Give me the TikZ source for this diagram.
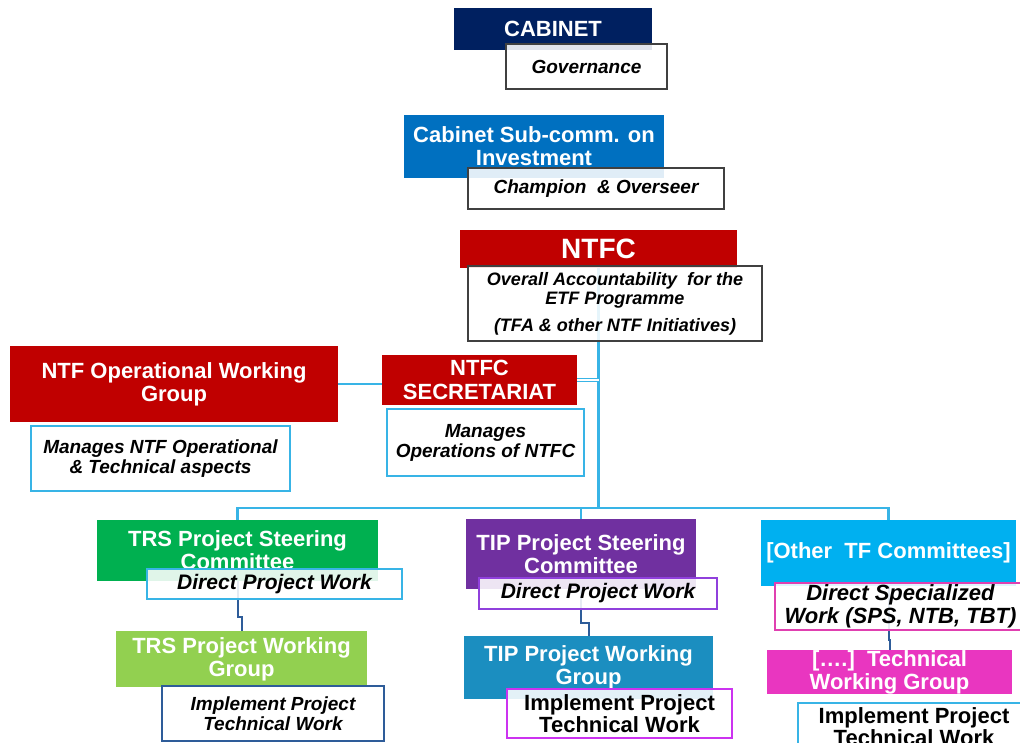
\documentclass[tikz,border=0pt]{standalone}
\usepackage{fontspec}
\setmainfont{Liberation Sans}
\usetikzlibrary{backgrounds}
\definecolor{navy}{HTML}{002060}
\definecolor{subblue}{HTML}{0070C0}
\definecolor{darkred}{HTML}{C00000}
\definecolor{trsgreen}{HTML}{00B050}
\definecolor{lightgreen}{HTML}{92D050}
\definecolor{tippurple}{HTML}{7030A0}
\definecolor{tipteal}{HTML}{1B8EC0}
\definecolor{othcyan}{HTML}{00B0F0}
\definecolor{othmagenta}{HTML}{E936C0}
\definecolor{linkblue}{HTML}{38B4E6}
\definecolor{jogblue}{HTML}{2E5C99}
\definecolor{notegray}{HTML}{404040}
\definecolor{notepurple}{HTML}{9040DC}
\definecolor{noteviolet}{HTML}{CC33F0}
\definecolor{notepink}{HTML}{E040B0}

\begin{document}
\begin{tikzpicture}[x=1pt,y=-1pt,
    wh/.style 2 args={minimum width=#1pt,minimum height=#2pt},
    head/.style={fill=#1,text=white,align=center,inner sep=0pt,
                 font=\fontsize{22}{23}\selectfont\bfseries},
    note/.style={draw=#1,line width=2pt,fill=white,fill opacity=.88,
                 text opacity=1,text=black,align=center,inner sep=0pt,
                 font=\fontsize{19}{20}\selectfont\bfseries\itshape},
    link/.style={draw=linkblue,line width=2.5pt},
    jog/.style={draw=jogblue,line width=2pt}]
  \useasboundingbox (0,0) rectangle (1020,742);

  % top of the chart
  \node[head=navy,wh={198}{42}]     (cab)  at (553,29)    {CABINET};
  \node[note=notegray,wh={161}{45}] (gov)  at (586.5,66.5) {Governance};
  \node[head=subblue,wh={260}{63}]  (sub)  at (534,146.5) {Cabinet Sub-comm. on\\Investment};
  \node[note=notegray,wh={256}{41}] (champ) at (596,188.5) {Champion\ \ \& Overseer};
  \node[head=darkred,wh={277}{38},font=\fontsize{28}{30}\selectfont\bfseries]
                                    (ntfc) at (598.5,249) {NTFC};
  \node[note=notegray,wh={294}{75},font=\fontsize{18}{19}\selectfont\bfseries\itshape]
                                    (acc)  at (615,303.5)
        {Overall Accountability\ \ for the\\ETF Programme\\[8pt](TFA \& other NTF Initiatives)};

  % operational level
  \node[head=darkred,wh={328}{76}]  (opwg) at (174,384)   {NTF Operational Working\\Group};
  \node[note=linkblue,wh={259}{65}] (opnote) at (160.5,458.5)
        {Manages NTF Operational\\\& Technical aspects};
  \node[head=darkred,wh={195}{50},font=\fontsize{22}{24}\selectfont\bfseries]
                                    (sec)  at (479.5,380) {NTFC\\SECRETARIAT};
  \node[note=linkblue,wh={197}{67}] (secnote) at (485.5,442.5) {Manages\\Operations of NTFC};

  % TRS branch
  \node[head=trsgreen,wh={281}{61}]   (trssc) at (237.5,550.5) {TRS Project Steering\\Committee};
  \node[note=linkblue,wh={255}{30},font=\fontsize{21}{22}\selectfont\bfseries\itshape]
                                      (trsnote) at (274.5,584) {Direct Project Work};
  \node[head=lightgreen,wh={251}{56}] (trswg) at (241.5,659) {TRS Project Working\\Group};
  \node[note=jogblue,wh={222}{55}]    (trsimp) at (273,713.5) {Implement Project\\Technical Work};

  % TIP branch
  \node[head=tippurple,wh={230}{70}]  (tipsc) at (581,554) {TIP Project Steering\\Committee};
  \node[note=notepurple,wh={238}{31},font=\fontsize{21}{22}\selectfont\bfseries\itshape]
                                      (tipnote) at (598,593.5) {Direct Project Work};
  \node[head=tipteal,wh={249}{63}]    (tipwg) at (588.5,667.5) {TIP Project Working\\Group};
  \node[note=noteviolet,wh={225}{49},font=\fontsize{22}{22}\selectfont\bfseries]
                                      (tipimp) at (619.5,713.5) {Implement Project\\Technical Work};

  % other committees
  \node[head=othcyan,wh={255}{66}]    (othsc) at (888.5,553) {[Other\ \ TF Committees]};
  \node[note=notepink,wh={251}{47},font=\fontsize{22}{23}\selectfont\bfseries\itshape]
                                      (othnote) at (900.5,606.5) {Direct Specialized\\Work (SPS, NTB, TBT)};
  \node[head=othmagenta,wh={245}{40}] (othwg) at (889.5,672) {[\dots.]\ \ Technical\\Working Group};
  \node[note=linkblue,wh={232}{47},font=\fontsize{22}{22}\selectfont\bfseries]
                                      (othimp) at (914,726.5) {Implement Project\\Technical Work};

  \coordinate (bus) at (598.5,508);

  \begin{pgfonlayer}{background}
    \draw[link] (ntfc.south) -- (bus);
    \draw[link] (bus) -| (trssc.north);
    \draw[link] (bus) -| (tipsc.north);
    \draw[link] (bus) -| (othsc.north);
    \draw[link] (opwg.east) -- (opwg.east -| sec.west);
    \draw[link,double=white,double distance=2pt,line width=1.4pt]
      (sec.east) -- (sec.east -| bus);
    \draw[jog] (trssc.south) -- ++(0,36) -| (trswg.north);
    \draw[jog] (tipsc.south) -- ++(0,34) -| (tipwg.north);
    \draw[jog] (othsc.south) -- ++(0,54) -| (othwg.north);
  \end{pgfonlayer}
\end{tikzpicture}
\end{document}
